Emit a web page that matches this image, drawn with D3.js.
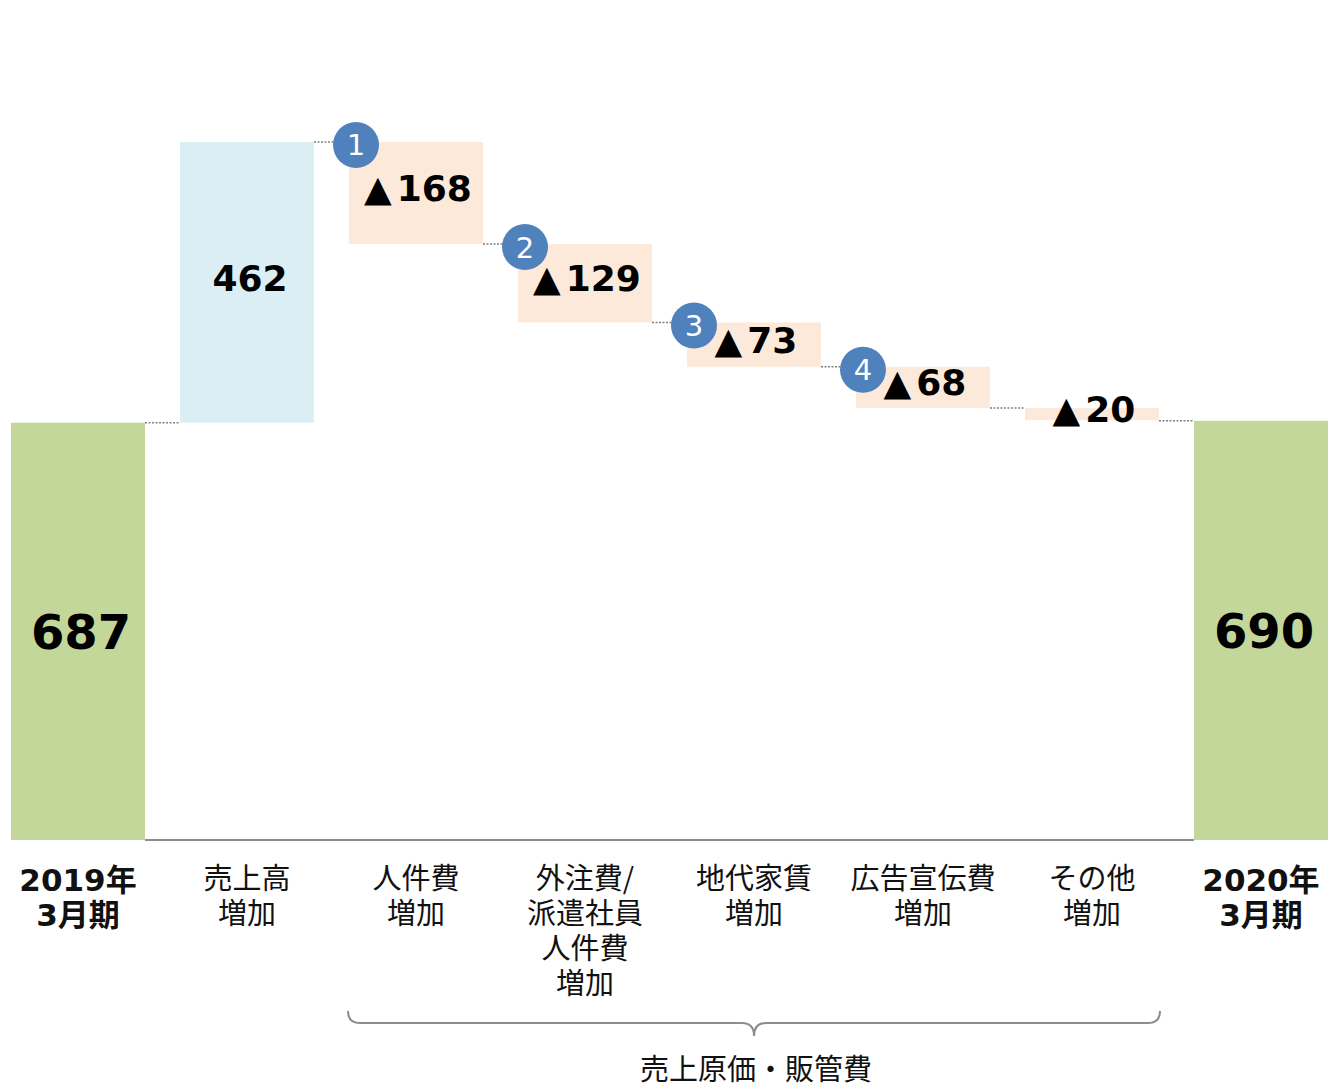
<!DOCTYPE html>
<html>
<head>
<meta charset="utf-8">
<script src="https://cdn.jsdelivr.net/npm/d3@7"></script>
<style>
  body { margin: 0; background: #fff; }
  svg { display: block; }
</style>
</head>
<body>
<div id="chart"></div>
<script>
// data
let categories = ["2019年3月期", "売上高増加", "人件費増加", "外注費派遣", "地代家賃増加", "広告宣伝費増加", "その他増加", "2020年3月期"];
let catLines = [["2019年", "3月期"], ["売上高", "増加"], ["人件費", "増加"], ["外注費/", "派遣社員", "人件費", "増加"],
                ["地代家賃", "増加"], ["広告宣伝費", "増加"], ["その他", "増加"], ["2020年", "3月期"]];
let values = [687, 462, -168, -129, -73, -68, -20, 690];
let kinds = ["total", "up", "down", "down", "down", "down", "down", "total"];
let badges = [null, null, "1", "2", "3", "4", null, null];
let groupLabel = "売上原価・販管費";

let width = 1328, height = 1085;
let svg = d3.select("#chart").append("svg")
    .attr("width", width)
    .attr("height", height);

let x = d3.scaleBand()
    .domain(categories)
    .range([11, 1328])
    .paddingInner(0.207)
    .paddingOuter(0);

let y = d3.scaleLinear()
    .domain([0, 1149])
    .range([840, 142]);

let color = { total: "#c4d79b", up: "#daeef3", down: "#fde9d9" };

// running start / end of each bar
let run = 0;
let bars = values.map(function(v, i) {
    let d = { cat: categories[i], value: v, kind: kinds[i], badge: badges[i], lines: catLines[i] };
    if (kinds[i] === "total") { d.y0 = 0; d.y1 = v; run = v; }
    else { d.y0 = run; d.y1 = run + v; run = run + v; }
    return d;
});

let numFont = "'DejaVu Sans', Verdana, 'Noto Sans CJK JP', sans-serif";
let jpFont = "'Noto Sans CJK JP', sans-serif";

// dotted connectors
for (let i = 0; i < bars.length - 1; i++) {
    let lv = bars[i].kind === "down" ? Math.min(bars[i].y0, bars[i].y1) : Math.max(bars[i].y0, bars[i].y1);
    if (i === bars.length - 2) lv = bars[i + 1].value;
    svg.append("line")
        .attr("x1", x(bars[i].cat) + x.bandwidth())
        .attr("x2", x(bars[i + 1].cat))
        .attr("y1", y(lv)).attr("y2", y(lv))
        .attr("stroke", "#808080")
        .attr("stroke-width", 1.5)
        .attr("stroke-dasharray", "2,1.5");
}

// baseline
svg.append("line")
    .attr("x1", x(categories[0]) + x.bandwidth())
    .attr("x2", x(categories[7]))
    .attr("y1", y(0)).attr("y2", y(0))
    .attr("stroke", "#8c8c8c")
    .attr("stroke-width", 2);

// bars
svg.selectAll("rect.bar")
    .data(bars)
    .enter()
    .append("rect")
    .attr("class", "bar")
    .attr("x", function(d) { return x(d.cat); })
    .attr("y", function(d) { return y(Math.max(d.y0, d.y1)); })
    .attr("width", x.bandwidth())
    .attr("height", function(d) { return Math.abs(y(d.y0) - y(d.y1)); })
    .style("fill", function(d) { return color[d.kind]; });

// value labels
let vl = svg.selectAll("text.val")
    .data(bars)
    .enter()
    .append("text")
    .attr("class", "val")
    .attr("x", function(d) { return x(d.cat) + x.bandwidth() / 2 + (d.kind === "down" ? 2 : 3); })
    .attr("y", function(d) {
        let mid = (y(d.y0) + y(d.y1)) / 2;
        if (d.kind === "down") mid -= 5;
        if (d.kind === "up") mid -= 4;
        return mid;
    })
    .attr("dy", "0.36em")
    .attr("text-anchor", "middle")
    .attr("font-family", numFont)
    .attr("font-weight", "bold")
    .attr("font-size", function(d) { return d.kind === "total" ? "48px" : "36px"; })
    .attr("fill", "#000");
vl.filter(function(d) { return d.value < 0; })
    .append("tspan").text("▲");
vl.append("tspan")
    .attr("dx", function(d) { return d.value < 0 ? 5 : 0; })
    .text(function(d) { return Math.abs(d.value); });

// numbered badges
let bg = svg.selectAll("g.badge")
    .data(bars.filter(function(d) { return d.badge; }))
    .enter()
    .append("g")
    .attr("class", "badge")
    .attr("transform", function(d) {
        return "translate(" + (x(d.cat) + 7) + "," + (y(d.y0) + 3) + ")";
    });
bg.append("circle")
    .attr("r", 23)
    .attr("fill", "#4f81bd");
bg.append("text")
    .attr("text-anchor", "middle")
    .attr("dy", "0.36em")
    .attr("font-family", numFont)
    .attr("font-size", "29px")
    .attr("fill", "#fff")
    .text(function(d) { return d.badge; });

// category labels
bars.forEach(function(d) {
    let isTotal = d.kind === "total";
    let t = svg.append("text")
        .attr("x", x(d.cat) + x.bandwidth() / 2)
        .attr("y", isTotal ? 891 : 889)
        .attr("text-anchor", "middle")
        .attr("font-family", isTotal ? numFont : jpFont)
        .attr("font-size", isTotal ? "31px" : "29px")
        .attr("font-weight", isTotal ? "bold" : "normal")
        .attr("fill", "#111");
    d.lines.forEach(function(l, j) {
        t.append("tspan")
            .attr("x", x(d.cat) + x.bandwidth() / 2)
            .attr("dy", j === 0 ? 0 : 35)
            .text(l);
    });
});

// brace under the cost items
let bx0 = x(categories[2]) - 1, bx1 = x(categories[6]) + x.bandwidth() + 1;
let bm = (bx0 + bx1) / 2;
let path = d3.path();
path.moveTo(bx0, 1011);
path.quadraticCurveTo(bx0, 1023, bx0 + 12, 1023);
path.lineTo(bm - 12, 1023);
path.quadraticCurveTo(bm, 1023, bm, 1036);
path.quadraticCurveTo(bm, 1023, bm + 12, 1023);
path.lineTo(bx1 - 12, 1023);
path.quadraticCurveTo(bx1, 1023, bx1, 1011);
svg.append("path")
    .attr("d", path.toString())
    .attr("fill", "none")
    .attr("stroke", "#8c8c8c")
    .attr("stroke-width", 2);

svg.append("text")
    .attr("x", bm + 2)
    .attr("y", 1080)
    .attr("text-anchor", "middle")
    .attr("font-family", jpFont)
    .attr("font-size", "29px")
    .attr("fill", "#111")
    .text(groupLabel);
</script>
</body>
</html>
